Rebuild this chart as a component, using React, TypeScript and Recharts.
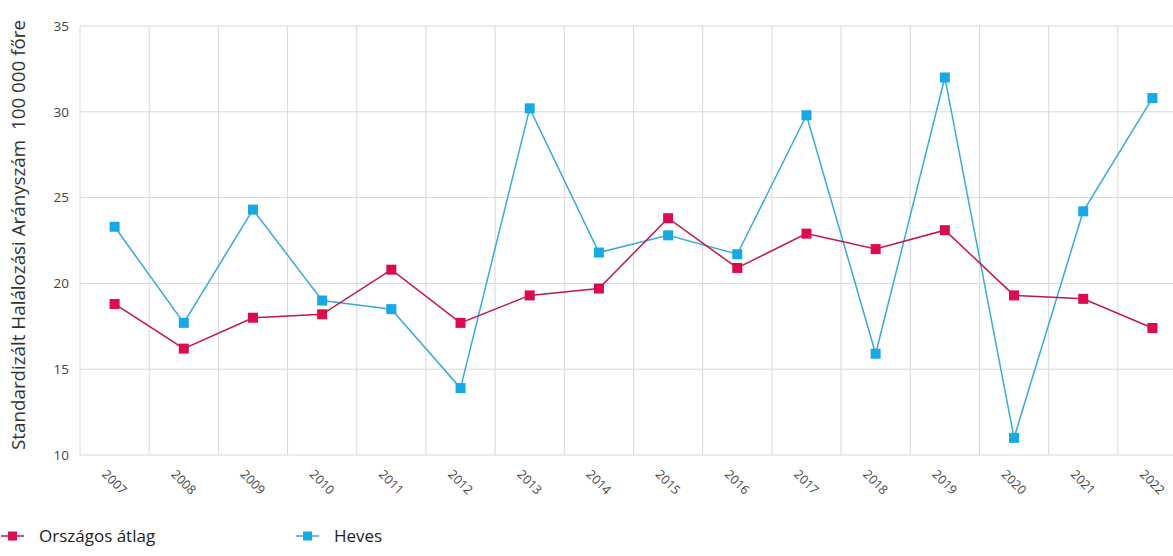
import { LineChart, Line, XAxis, YAxis, CartesianGrid } from 'recharts'

const years = ['2007', '2008', '2009', '2010', '2011', '2012', '2013', '2014', '2015', '2016', '2017', '2018', '2019', '2020', '2021', '2022']
const orszagosAtlag = [18.8, 16.2, 18.0, 18.2, 20.8, 17.7, 19.3, 19.7, 23.8, 20.9, 22.9, 22.0, 23.1, 19.3, 19.1, 17.4]
const heves = [23.3, 17.7, 24.3, 19.0, 18.5, 13.9, 30.2, 21.8, 22.8, 21.7, 29.8, 15.9, 32.0, 11.0, 24.2, 30.8]
const yTicks = [10, 15, 20, 25, 30, 35]

const RED = '#dc0a4e'
const RED_LINE = '#c3164f'
const BLUE = '#17a8e6'
const BLUE_LINE = '#3aaad8'
const FONT = '"Open Sans", sans-serif'

const data = years.map((year, i) => ({
  idx: i,
  year,
  orszagos: orszagosAtlag[i],
  heves: heves[i],
}))

// grid lines sit between the categories, not on them
const bandEdges = years.map((_, i) => i - 0.5).concat(years.length - 0.5)

const SquareDot = (color: string) => (props: any) => {
  const { cx, cy, index } = props
  if (cx == null || cy == null) return null
  return <rect key={index} x={cx - 5} y={cy - 5} width={10} height={10} fill={color} />
}

const YearTick = (props: any) => {
  const { x, y, payload } = props
  return (
    <g transform={`translate(${x},${y + 19}) rotate(45)`}>
      <text x={0} y={0} textAnchor="middle" dominantBaseline="central" fill="#444" fontSize={12.5} fontFamily={FONT}>
        {years[payload.value]}
      </text>
    </g>
  )
}

const AxisTitle = () => {
  const cx = 18
  const cy = 235
  return (
    <text
      x={cx}
      y={cy}
      transform={`rotate(-90, ${cx}, ${cy})`}
      textAnchor="middle"
      dominantBaseline="central"
      fill="#333"
      fontSize={18.8}
      fontFamily={FONT}
    >
      Standardizált Halálozási Arányszám{'\u00a0\u00a0'}100 000 főre
    </text>
  )
}

const LegendIcon = ({ line, fill }: { line: string; fill: string }) => (
  <svg width={23} height={12} style={{ display: 'block' }}>
    <line x1={0} y1={6} x2={23} y2={6} stroke={line} strokeWidth={1.5} />
    <rect x={7} y={1.5} width={9} height={9} fill={fill} />
  </svg>
)

const legendItems = [
  { label: 'Országos átlag', line: RED_LINE, fill: RED, left: 1 },
  { label: 'Heves', line: BLUE_LINE, fill: BLUE, left: 296 },
]

export default function App() {
  return (
    <div style={{ position: 'fixed', left: 0, top: 0, width: 1173, height: 556, overflow: 'hidden', background: '#fff' }}>
      <LineChart width={1200} height={515} data={data} margin={{ top: 26, right: 13, left: 0, bottom: 0 }}>
        <CartesianGrid stroke="#d9d9d9" verticalValues={bandEdges} />
        <XAxis
          dataKey="idx"
          type="number"
          domain={[-0.5, years.length - 0.5]}
          ticks={years.map((_, i) => i)}
          tick={<YearTick />}
          axisLine={false}
          tickLine={false}
          height={60}
          interval={0}
        />
        <YAxis
          domain={[10, 35]}
          ticks={yTicks}
          width={80}
          axisLine={false}
          tickLine={false}
          tickMargin={5}
          tick={{ fill: '#444', fontSize: 13.5, fontFamily: FONT }}
          label={<AxisTitle />}
        />
        <Line
          type="linear"
          dataKey="heves"
          name="Heves"
          stroke={BLUE_LINE}
          strokeWidth={1.5}
          dot={SquareDot(BLUE)}
          activeDot={false}
          isAnimationActive={false}
        />
        <Line
          type="linear"
          dataKey="orszagos"
          name="Országos átlag"
          stroke={RED_LINE}
          strokeWidth={1.5}
          dot={SquareDot(RED)}
          activeDot={false}
          isAnimationActive={false}
        />
      </LineChart>
      {legendItems.map(item => (
        <div
          key={item.label}
          style={{
            position: 'absolute',
            left: item.left,
            top: 524,
            display: 'flex',
            alignItems: 'center',
            fontFamily: FONT,
            fontSize: 17,
            color: '#222',
          }}
        >
          <LegendIcon line={item.line} fill={item.fill} />
          <span style={{ marginLeft: 15 }}>{item.label}</span>
        </div>
      ))}
    </div>
  )
}
